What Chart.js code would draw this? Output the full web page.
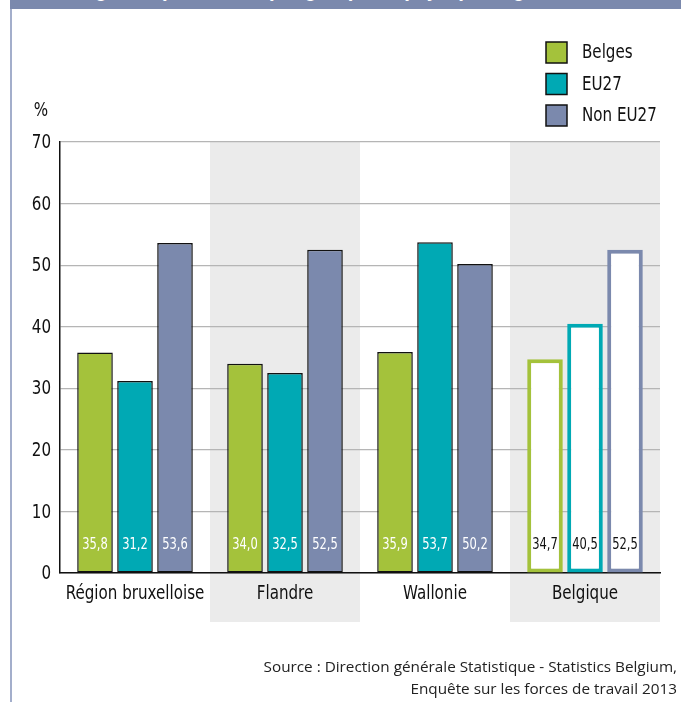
<!DOCTYPE html>
<html lang="fr">
<head>
<meta charset="utf-8">
<script src="https://cdn.jsdelivr.net/npm/chart.js@4.4.1/dist/chart.umd.min.js"></script>
<style>
  html, body { margin: 0; padding: 0; background: #fff; }
  #wrap { position: relative; width: 681px; height: 702px; overflow: hidden; }
  #banner {
    position: absolute; left: 10px; top: 0; width: 671px; height: 9px;
    background: #7b89ad; overflow: hidden;
  }
  #banner span {
    position: absolute; right: 6px; top: -23px; white-space: nowrap; line-height: 24px;
    color: #fff; font: bold 22px "DejaVu Sans Condensed", sans-serif;
    transform: scaleX(0.82); transform-origin: right top;
  }
  #edge { position: absolute; left: 10px; top: 9px; width: 2px; height: 693px; background: #a3aecb; }
  canvas { position: absolute; left: 0; top: 0; }
</style>
</head>
<body>
<div id="wrap">
  <div id="banner"><span>Taux de chômage des personnes, par groupe de pays, par région, 2013 (en %)</span></div>
  <div id="edge"></div>
  <canvas id="c" width="681" height="702"></canvas>
</div>
<script>
// Categories and series
const regions = ['Région bruxelloise', 'Flandre', 'Wallonie', 'Belgique'];
const belges = [35.8, 34.0, 35.9, 34.7];
const eu27 = [31.2, 32.5, 53.7, 40.5];
const nonEu27 = [53.6, 52.5, 50.2, 52.5];
const seriesNames = ['Belges', 'EU27', 'Non EU27'];
const yTicks = [0, 10, 20, 30, 40, 50, 60, 70];
const sourceLines = [
  'Source : Direction générale Statistique - Statistics Belgium,',
  'Enquête sur les forces de travail 2013'
];

const COLORS = ['#a4c23b', '#00a9b4', '#7b89ad'];
const NARROW = '"DejaVu Sans Condensed", "DejaVu Sans", sans-serif';
const shaded = [false, true, false, true]; // bands behind alternate groups
const totalIdx = regions.length - 1;       // national total drawn as outlined bars

// Condensed text: DejaVu Sans Condensed squeezed horizontally
function narrowText(ctx, text, x, y, size, align, squeeze) {
  ctx.save();
  ctx.font = size + 'px ' + NARROW;
  ctx.textBaseline = 'middle';
  ctx.textAlign = align;
  ctx.translate(x, y);
  ctx.scale(squeeze, 1);
  ctx.fillText(text, 0, 0);
  ctx.restore();
}

function makeDataset(name, values, color) {
  return {
    label: name,
    data: values,
    backgroundColor: values.map((v, i) => i === totalIdx ? '#ffffff' : color),
    borderColor: values.map((v, i) => i === totalIdx ? color : '#111111'),
    borderWidth: values.map((v, i) => i === totalIdx ? 4 : 1.5),
    borderSkipped: false,
    categoryPercentage: 0.8,
    barPercentage: 0.89
  };
}

// Grey bands behind alternating categories
const bandPlugin = {
  id: 'bands',
  beforeDraw(chart) {
    const { ctx, chartArea, scales: { x } } = chart;
    const step = x.width / regions.length;
    ctx.save();
    ctx.fillStyle = '#ebebeb';
    regions.forEach((r, i) => {
      if (!shaded[i]) return;
      const cx = x.getPixelForValue(i);
      ctx.fillRect(cx - step / 2, chartArea.top, step, chartArea.bottom - chartArea.top + 49);
    });
    ctx.restore();
  }
};

// Tick labels, value labels, legend, axis unit and source
const decorPlugin = {
  id: 'decor',
  afterDatasetsDraw(chart) {
    const { ctx } = chart;
    chart.data.datasets.forEach((ds, di) => {
      chart.getDatasetMeta(di).data.forEach((bar, i) => {
        ctx.fillStyle = i === totalIdx ? '#111' : '#fff';
        narrowText(ctx, ds.data[i].toFixed(1).replace('.', ','), bar.x, bar.base - 28, 16, 'center', 0.8);
      });
    });
  },
  afterDraw(chart) {
    const { ctx, scales: { x, y } } = chart;
    ctx.save();
    ctx.fillStyle = '#111';
    // axis tick labels
    yTicks.forEach(v => narrowText(ctx, String(v), 51, y.getPixelForValue(v) + 1, 20, 'right', 0.84));
    regions.forEach((r, i) => narrowText(ctx, r, x.getPixelForValue(i), 594, 20, 'center', 0.84));
    // legend
    chart.data.datasets.forEach((ds, i) => {
      const yy = 53 + i * 31.5;
      ctx.fillStyle = COLORS[i];
      ctx.fillRect(546, yy - 11, 21, 21);
      ctx.strokeStyle = '#111';
      ctx.lineWidth = 1.5;
      ctx.strokeRect(546, yy - 11, 21, 21);
      ctx.fillStyle = '#111';
      narrowText(ctx, seriesNames[i], 582, yy, 20, 'left', 0.84);
    });
    // unit
    narrowText(ctx, '%', 41, 111, 20, 'center', 0.84);
    // source
    ctx.font = '15.3px "Open Sans", "Noto Sans", sans-serif';
    ctx.textAlign = 'right';
    ctx.textBaseline = 'middle';
    ctx.fillStyle = '#222';
    ctx.fillText(sourceLines[0], 677, 668);
    ctx.fillText(sourceLines[1], 677, 690);
    ctx.restore();
  }
};

new Chart(document.getElementById('c'), {
  type: 'bar',
  data: {
    labels: regions,
    datasets: [
      makeDataset(seriesNames[0], belges, COLORS[0]),
      makeDataset(seriesNames[1], eu27, COLORS[1]),
      makeDataset(seriesNames[2], nonEu27, COLORS[2])
    ]
  },
  options: {
    responsive: false,
    animation: false,
    devicePixelRatio: 1,
    layout: { padding: { left: 0, right: 21, top: 142, bottom: 0 } },
    plugins: { legend: { display: false }, tooltip: { enabled: false } },
    scales: {
      x: {
        grid: { display: false, drawTicks: false },
        border: { display: true, color: '#111', width: 1.5 },
        ticks: { display: false, maxRotation: 0, minRotation: 0 },
        afterFit(scale) { scale.height = 129; }
      },
      y: {
        min: 0, max: 70,
        afterBuildTicks(scale) { scale.ticks = yTicks.map(v => ({ value: v })); },
        grid: { color: '#b5b5b5', lineWidth: 1.2, drawTicks: false },
        border: { display: true, color: '#111', width: 1.5 },
        ticks: { display: false },
        afterFit(scale) { scale.width = 60; }
      }
    }
  },
  plugins: [bandPlugin, decorPlugin]
});
</script>
</body>
</html>
